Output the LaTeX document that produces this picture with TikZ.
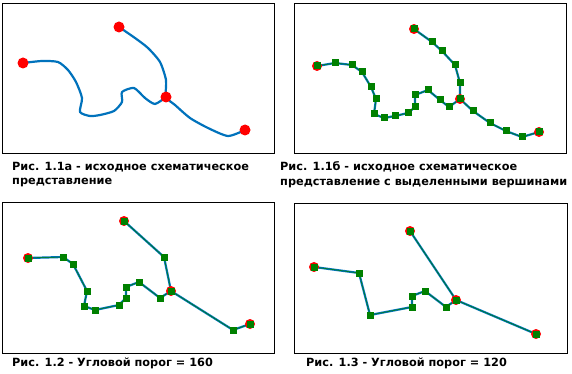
\documentclass[tikz,border=0pt]{standalone}
\usepackage{fontspec}
\setmainfont{DejaVu Sans}
\definecolor{lineblue}{RGB}{0,114,188}
\definecolor{vertgreen}{RGB}{0,128,0}
\tikzset{
  frame/.style={draw=black,line width=1pt},
  curve/.style={lineblue,line width=2.2pt,line join=round},
  core/.style={vertgreen,line width=0.5pt,line join=round},
  endpt/.style={circle,fill=red,inner sep=0pt,minimum size=11pt},
  vert/.style={rectangle,fill=vertgreen,inner sep=0pt,minimum size=7pt},
  caption/.style={anchor=base west,inner sep=0pt,align=left,font=\bfseries\fontsize{11.3}{14}\selectfont}
}
\begin{document}
\begin{tikzpicture}[x=1pt,y=-1pt]
  \useasboundingbox (0,0) rectangle (572,374);
  % frames
  \draw[frame] (2,4) rectangle (274,154);
  \draw[frame] (294,4) rectangle (566,154);
  \draw[frame] (2,202) rectangle (274,353);
  \draw[frame] (294,203) rectangle (567,353);

  % 1.1a - source lines
  \draw[curve] plot[smooth,tension=0.4] coordinates {(23,63) (42,61) (58,62) (68,70) (76,82) (82,98) (80,112) (90,116) (100,115) (114,111) (122,102) (122,92) (134,88) (145,98) (155,104) (166,97)};
  \draw[curve] plot[smooth,tension=0.4] coordinates {(119,27) (135,38) (148,48) (160,62) (166,80) (166,97) (175,105) (190,118) (208,128) (228,136) (245,130)};
  \foreach \n/\x/\y in {a1/23/63,a2/119/27,a3/166/97,a4/245/130}
    \node[endpt] (\n) at (\x,\y) {};

  % 1.1b - all vertices
  \foreach \n/\x/\y in {b1/317/66,b2/335/63,b3/352/65,b4/362/72,b5/371/87,b6/376/99,b7/374/114,b8/384/118,b9/395/116,b10/408/113,b11/415/107,b12/415/95,b13/428/90,b14/440/100,b15/449/107,b16/460/99,c1/414/29,c2/432/42,c3/442/51,c4/455/65,c5/460/83,c6/473/111,c7/490/123,c8/506/131,c9/522/137,c10/539/132}
    \coordinate (\n) at (\x,\y);
  \foreach \s in {curve,core}{
    \draw[\s] (b1) -- (b2) -- (b3) -- (b4) -- (b5) -- (b6) -- (b7) -- (b8) -- (b9) -- (b10) -- (b11) -- (b12) -- (b13) -- (b14) -- (b15) -- (b16);
    \draw[\s] (c1) -- (c2) -- (c3) -- (c4) -- (c5) -- (b16) -- (c6) -- (c7) -- (c8) -- (c9) -- (c10);
  }
  \foreach \n in {b1,c1,b16,c10}
    \node[endpt,minimum size=10pt] at (\n) {};
  \foreach \n in {b1,b2,b3,b4,b5,b6,b7,b8,b9,b10,b11,b12,b13,b14,b15,b16,c1,c2,c3,c4,c5,c6,c7,c8,c9,c10}
    \node[vert] at (\n) {};

  % 1.2 - threshold 160
  \foreach \n/\x/\y in {d1/28/258,d2/63/257,d3/73/264,d4/87/291,d5/84/306,d6/95/310,d7/119/305,d8/126/298,d9/126/287,d10/139/282,d11/160/298,d12/171/291,e1/124/221,e2/164/257,e3/233/330,e4/250/324}
    \coordinate (\n) at (\x,\y);
  \foreach \s in {curve,core}{
    \draw[\s] (d1) -- (d2) -- (d3) -- (d4) -- (d5) -- (d6) -- (d7) -- (d8) -- (d9) -- (d10) -- (d11) -- (d12);
    \draw[\s] (e1) -- (e2) -- (d12) -- (e3) -- (e4);
  }
  \foreach \n in {d1,e1,d12,e4}
    \node[endpt,minimum size=10pt] at (\n) {};
  \foreach \n in {d1,d2,d3,d4,d5,d6,d7,d8,d9,d10,d11,d12,e1,e2,e3,e4}
    \node[vert] at (\n) {};

  % 1.3 - threshold 120
  \foreach \n/\x/\y in {f1/314/267,f2/359/273,f3/370/315,f4/412/307,f5/412/296,f6/425/291,f7/446/307,f8/456/300,g1/410/231,g2/536/334}
    \coordinate (\n) at (\x,\y);
  \foreach \s in {curve,core}{
    \draw[\s] (f1) -- (f2) -- (f3) -- (f4) -- (f5) -- (f6) -- (f7) -- (f8);
    \draw[\s] (g1) -- (f8) -- (g2);
  }
  \foreach \n in {f1,g1,f8,g2}
    \node[endpt,minimum size=10pt] at (\n) {};
  \foreach \n in {f1,f2,f3,f4,f5,f6,f7,f8,g1,g2}
    \node[vert] at (\n) {};

  % captions (base = last line)
  \node[caption] (cap1) at (12,184) {Рис. 1.1а - исходное схематическое\\представление};
  \node[caption] (cap2) at (280,185) {Рис. 1.1б - исходное схематическое\\представление с выделенными вершинами};
  \node[caption] (cap3) at (12,366) {Рис. 1.2 - Угловой порог = 160};
  \node[caption] (cap4) at (306,366) {Рис. 1.3 - Угловой порог = 120};
\end{tikzpicture}
\end{document}
